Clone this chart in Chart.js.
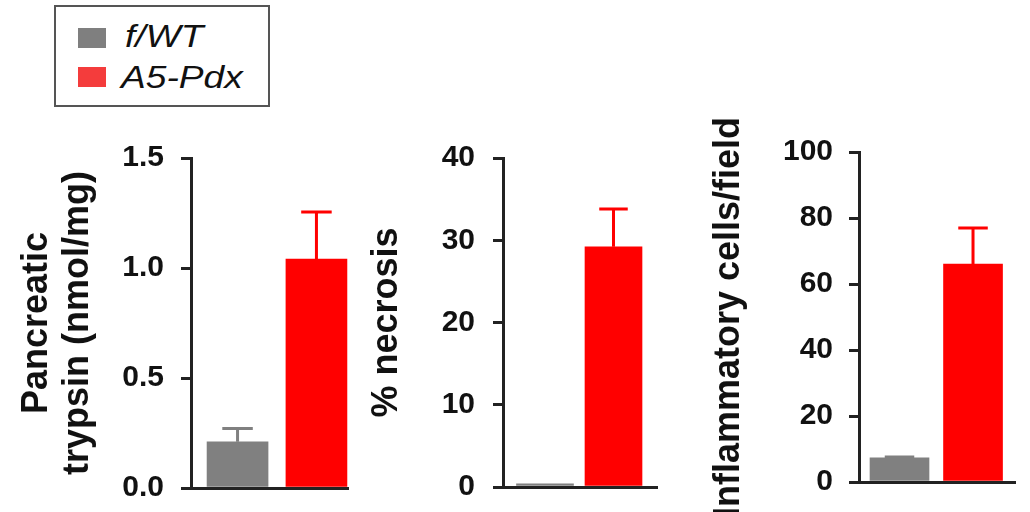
<!DOCTYPE html>
<html>
<head>
<meta charset="utf-8">
<script src="https://cdn.jsdelivr.net/npm/chart.js@4.4.1/dist/chart.umd.min.js"></script>
<style>
  body { margin: 0; width: 1030px; height: 512px; background: #fff; position: relative; overflow: hidden;
         font-family: "Liberation Sans", Arial, sans-serif; }
  canvas { position: absolute; top: 0; }
  #legend { position: absolute; left: 54px; top: 5px; width: 212px; height: 98px; border: 2px solid #555; }
  .sw { position: absolute; left: 78px; width: 28px; height: 20px; }
  .lab { position: absolute; font-style: italic; font-size: 32px; line-height: 32px; color: #111; white-space: nowrap;
         transform: scaleX(1.16); transform-origin: left center; }
</style>
</head>
<body>
<div id="legend"></div>
<div class="sw" style="top:28px;background:#7f7f7f"></div>
<div class="sw" style="top:67px;background:#f43c3c"></div>
<div class="lab" style="left:125px;top:20px">f/WT</div>
<div class="lab" style="left:121px;top:61px">A5-Pdx</div>

<canvas id="c1" width="360" height="600" style="left:0px"></canvas>
<canvas id="c2" width="330" height="600" style="left:360px"></canvas>
<canvas id="c3" width="340" height="600" style="left:690px"></canvas>

<script>
// groups and colours
const groups = ['f/WT', 'A5-Pdx'];
const barColors = ['#808080', '#ff0000'];

// panel 1: pancreatic trypsin
const trypsinMean = [0.21, 1.04];
const trypsinErr = [0.06, 0.215];
const trypsinTicks = [0, 0.5, 1.0, 1.5];

// panel 2: % necrosis
const necrosisMean = [0.4, 29.2];
const necrosisErr = [0, 4.6];
const necrosisTicks = [0, 10, 20, 30, 40];

// panel 3: inflammatory cells
const inflamMean = [7.3, 66];
const inflamErr = [0.3, 11];
const inflamTicks = [0, 20, 40, 60, 80, 100];

const FONT = '"Liberation Sans", Arial, sans-serif';
const INK = '#111';
const AXIS = '#222';
const CANVAS_H = 600;

// draws mean + SEM whiskers on top of each bar
const errorBars = {
  id: 'errorBars',
  afterDatasetsDraw(chart) {
    const ctx = chart.ctx;
    const yScale = chart.scales.y;
    chart.data.datasets.forEach((ds, di) => {
      chart.getDatasetMeta(di).data.forEach((bar, i) => {
        const e = ds.errors[i];
        if (!e) return;
        const top = yScale.getPixelForValue(ds.data[i].y + e);
        const half = bar.width / 4;
        ctx.save();
        ctx.strokeStyle = ds.backgroundColor[i];
        ctx.lineWidth = 3;
        ctx.beginPath();
        ctx.moveTo(bar.x, bar.y);
        ctx.lineTo(bar.x, top);
        ctx.moveTo(bar.x - half, top);
        ctx.lineTo(bar.x + half, top);
        ctx.stroke();
        ctx.restore();
      });
    });
  }
};

function panel(id, o) {
  new Chart(document.getElementById(id), {
    type: 'bar',
    data: {
      datasets: [{
        data: groups.map((g, i) => ({ x: i, y: o.mean[i] })),
        errors: o.err,
        backgroundColor: barColors,
        borderWidth: 0,
        barThickness: o.barW
      }]
    },
    options: {
      responsive: false,
      animation: false,
      layout: { padding: { left: 0, top: o.top, right: o.right, bottom: CANVAS_H - o.bottom } },
      plugins: { legend: { display: false }, tooltip: { enabled: false } },
      scales: {
        x: {
          type: 'linear', min: o.xMin, max: o.xMax, offset: false,
          afterFit: s => { s.height = 0; },
          grid: { display: false },
          ticks: { display: false },
          border: { display: true, color: AXIS, width: 3 }
        },
        y: {
          min: 0, max: o.ticks[o.ticks.length - 1],
          afterFit: s => { s.width = o.yW; },
          afterBuildTicks: s => { s.ticks = o.ticks.map(v => ({ value: v })); },
          grid: { drawOnChartArea: false, drawTicks: true, tickLength: 10, color: AXIS, lineWidth: 3 },
          border: { display: true, color: AXIS, width: 3 },
          ticks: {
            color: INK, padding: o.tickPad,
            font: { family: FONT, size: 30, weight: 'bold' },
            callback: v => o.fmt(v)
          },
          title: {
            display: true, text: o.title, color: INK,
            font: { family: FONT, size: 36, weight: 'bold', lineHeight: 1.125 },
            padding: { top: o.titlePad, bottom: 0 }
          }
        }
      }
    },
    plugins: [errorBars]
  });
}

panel('c1', {
  mean: trypsinMean, err: trypsinErr, ticks: trypsinTicks, fmt: v => v.toFixed(1),
  title: ['Pancreatic', 'trypsin (nmol/mg)'], titlePad: 17,
  top: 158, bottom: 488, right: 12, yW: 191, tickPad: 17,
  xMin: -0.59, xMax: 1.4, barW: 61
});

panel('c2', {
  mean: necrosisMean, err: necrosisErr, ticks: necrosisTicks, fmt: v => String(v),
  title: '% necrosis', titlePad: 7,
  top: 158, bottom: 487, right: 33, yW: 143, tickPad: 18,
  xMin: -0.613, xMax: 1.635, barW: 57
});

panel('c3', {
  mean: inflamMean, err: inflamErr, ticks: inflamTicks, fmt: v => String(v),
  title: 'Inflammatory cells/field', titlePad: 19,
  top: 152, bottom: 482, right: 15, yW: 169, tickPad: 16,
  xMin: -0.551, xMax: 1.571, barW: 59
});
</script>
</body>
</html>
